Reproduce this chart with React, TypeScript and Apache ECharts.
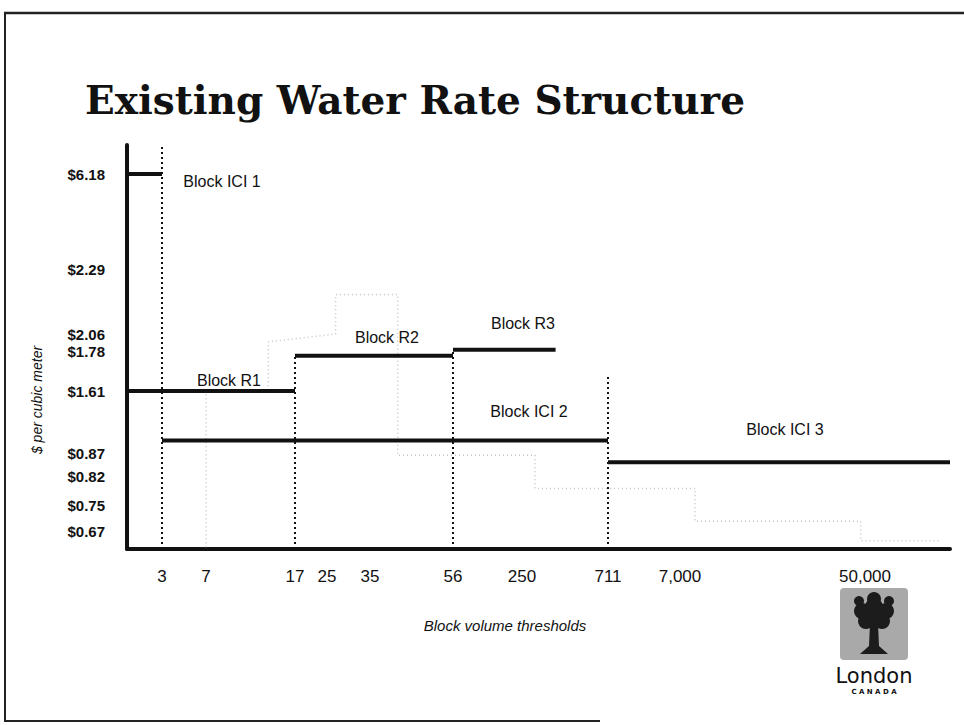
import React, { useEffect, useRef } from "react";
import * as echarts from "echarts";

// ---------- data ----------
const rateTicks = [6.18, 2.29, 2.06, 1.78, 1.61, 0.87, 0.82, 0.75, 0.67];
const rateTickLabels = ["$6.18", "$2.29", "$2.06", "$1.78", "$1.61", "$0.87", "$0.82", "$0.75", "$0.67"];
const volumeTicks = [3, 7, 17, 25, 35, 56, 250, 711, 7000, 50000];
const volumeTickLabels = ["3", "7", "17", "25", "35", "56", "250", "711", "7,000", "50,000"];

const blockNames = ["Block ICI 1", "Block R1", "Block R2", "Block R3", "Block ICI 2", "Block ICI 3"];
const blockStart = [0, 0, 17, 56, 3, 711];
const blockEnd = [3, 17, 56, 430, 711, 70000];
const blockRate = [6.18, 1.61, 1.76, 1.8, 1.02, 0.85];

const thresholdVolumes = [3, 17, 56, 711];
const thresholdTopRate = [7.37, 1.76, 1.8, 1.67];

// faint (erased) step line visible in the scan
const ghostAVolumes = [7, 7];
const ghostARates = [0.62, 1.59];
const ghostBVolumes = [14, 14, 27, 27, 42, 42, 320, 320, 10500, 10500, 49000, 49000, 68000];
const ghostBRates = [1.63, 1.93, 2.06, 2.2, 2.2, 0.865, 0.865, 0.79, 0.79, 0.7, 0.7, 0.64, 0.64];

// ---------- non-uniform axis scales (layout) ----------
const X_KNOTS = [[0, 0], [3, 35], [7, 79], [17, 168], [25, 200], [35, 243], [56, 326], [250, 395], [711, 481], [7000, 553], [50000, 738], [70000, 823]];
const Y_KNOTS = [[0.615, 0], [0.67, 18], [0.75, 44], [0.82, 73], [0.87, 96], [1.61, 158], [1.78, 198], [2.06, 215], [2.29, 280], [6.18, 375], [7.37, 404]];

function interp(knots: number[][], v: number) {
  for (let i = 0; i < knots.length - 1; i++) {
    const [a, pa] = knots[i];
    const [b, pb] = knots[i + 1];
    if (v <= b || i === knots.length - 2) return pa + ((v - a) / (b - a)) * (pb - pa);
  }
  return 0;
}
const xs = (v: number) => interp(X_KNOTS, v);
const ys = (v: number) => interp(Y_KNOTS, v);

const FONT = "'Liberation Sans', Arial, sans-serif";

export default function App() {
  const ref = useRef<HTMLDivElement>(null);
  useEffect(() => {
    if (!ref.current) return;
    const chart = echarts.init(ref.current, undefined, { renderer: "svg" });
    const xTickPos = volumeTicks.map(xs);
    const yTickPos = rateTicks.map(ys);
    const xMax = X_KNOTS[X_KNOTS.length - 1][1];
    const yMax = Y_KNOTS[Y_KNOTS.length - 1][1];
    const yFloor = Y_KNOTS[0][0];

    const series: any[] = [];
    blockNames.forEach((name, i) => {
      series.push({
        name,
        type: "line",
        silent: true,
        symbol: "none",
        lineStyle: { color: "#111", width: 4 },
        data: [
          [xs(blockStart[i]), ys(blockRate[i])],
          [xs(blockEnd[i]), ys(blockRate[i])],
        ],
        z: 5,
      });
    });
    thresholdVolumes.forEach((v, i) => {
      series.push({
        name: "threshold " + v,
        type: "line",
        silent: true,
        symbol: "none",
        lineStyle: { color: "#111", width: 2, type: [2, 3] },
        data: [
          [xs(v), ys(yFloor)],
          [xs(v), ys(thresholdTopRate[i])],
        ],
        z: 4,
      });
    });
    series.push({
      name: "ghost A",
      type: "line",
      silent: true,
      symbol: "none",
      lineStyle: { color: "#c4c4c4", width: 1.5, type: [1, 3] },
      data: ghostAVolumes.map((v, i) => [xs(v), ys(ghostARates[i])]),
      z: 2,
    });
    series.push({
      name: "ghost B",
      type: "line",
      silent: true,
      symbol: "none",
      lineStyle: { color: "#c4c4c4", width: 1.5, type: [1, 3] },
      data: ghostBVolumes.map((v, i) => [xs(v), ys(ghostBRates[i])]),
      z: 2,
    });

    const labelPos: number[][] = [
      [222, 181], [229, 380], [387, 337], [523, 323], [529, 411], [785, 429],
    ];

    const graphic: any[] = [
      // slide frame
      { type: "line", shape: { x1: 5, y1: 12, x2: 5, y2: 722 }, style: { stroke: "#222", lineWidth: 2 } },
      { type: "line", shape: { x1: 4, y1: 13, x2: 964, y2: 13 }, style: { stroke: "#222", lineWidth: 2.5 } },
      { type: "line", shape: { x1: 4, y1: 721, x2: 600, y2: 721 }, style: { stroke: "#222", lineWidth: 2 } },
      {
        type: "text",
        x: 85,
        y: 100,
        style: {
          text: "Existing Water Rate Structure",
          font: "bold 39px 'DejaVu Serif', serif",
          fill: "#111",
          align: "left",
          verticalAlign: "middle",
        },
      },
      {
        type: "text",
        x: 37,
        y: 400,
        rotation: Math.PI / 2,
        style: {
          text: "$ per cubic meter",
          font: "italic 14px " + FONT,
          fill: "#111",
          align: "center",
          verticalAlign: "middle",
        },
      },
      {
        type: "text",
        x: 505,
        y: 625,
        style: {
          text: "Block volume thresholds",
          font: "italic 15px " + FONT,
          fill: "#111",
          align: "center",
          verticalAlign: "middle",
        },
      },
      ...blockNames.map((n, i) => ({
        type: "text",
        x: labelPos[i][0],
        y: labelPos[i][1],
        style: { text: n, font: "16px " + FONT, fill: "#111", align: "center", verticalAlign: "middle" },
      })),
      // London logo
      { type: "rect", shape: { x: 840, y: 588, width: 68, height: 72, r: 4 }, style: { fill: "#a9a9a9" } },
      ...[
        [874, 607, 9], [862, 611, 8], [886, 611, 8], [866, 621, 8], [882, 621, 8],
        [874, 599, 7], [859, 601, 5], [889, 601, 5], [874, 617, 8],
      ].map((c) => ({ type: "circle", shape: { cx: c[0], cy: c[1], r: c[2] }, style: { fill: "#1c1c1c" } })),
      {
        type: "polygon",
        shape: { points: [[870, 624], [878, 624], [879, 646], [888, 654], [860, 654], [869, 646]] },
        style: { fill: "#1c1c1c" },
      },
      {
        type: "text",
        x: 874,
        y: 676,
        style: { text: "London", font: "21px 'DejaVu Sans', sans-serif", fill: "#111", align: "center", verticalAlign: "middle" },
      },
      {
        type: "text",
        x: 874,
        y: 692,
        style: { text: "C A N A D A", font: "bold 7px 'DejaVu Sans', sans-serif", fill: "#111", align: "center", verticalAlign: "middle" },
      },
    ];

    chart.setOption({
      animation: false,
      backgroundColor: "#ffffff",
      grid: { left: 127, right: 964 - 127 - xMax, top: 145, bottom: 725 - 145 - yMax },
      xAxis: {
        type: "value",
        min: 0,
        max: xMax,
        splitLine: { show: false },
        axisTick: { show: false },
        axisLine: { lineStyle: { color: "#111", width: 4 } },
        axisLabel: {
          customValues: xTickPos,
          hideOverlap: false,
          margin: 19,
          color: "#111",
          fontFamily: FONT,
          fontSize: 17,
          formatter: (val: number) => {
            const i = xTickPos.findIndex((p) => Math.abs(p - val) < 0.01);
            return i >= 0 ? volumeTickLabels[i] : "";
          },
        },
      },
      yAxis: {
        type: "value",
        min: 0,
        max: yMax,
        splitLine: { show: false },
        axisTick: { show: false },
        axisLine: { show: true, lineStyle: { color: "#111", width: 4 } },
        axisLabel: {
          customValues: yTickPos,
          hideOverlap: false,
          margin: 22,
          color: "#111",
          fontFamily: FONT,
          fontWeight: "bold",
          fontSize: 15,
          formatter: (val: number) => {
            const i = yTickPos.findIndex((p) => Math.abs(p - val) < 0.01);
            return i >= 0 ? rateTickLabels[i] : "";
          },
        },
      },
      series,
      graphic,
    });
    return () => chart.dispose();
  }, []);
  return <div ref={ref} style={{ position: "absolute", left: 0, top: 0, width: 964, height: 725 }} />;
}
